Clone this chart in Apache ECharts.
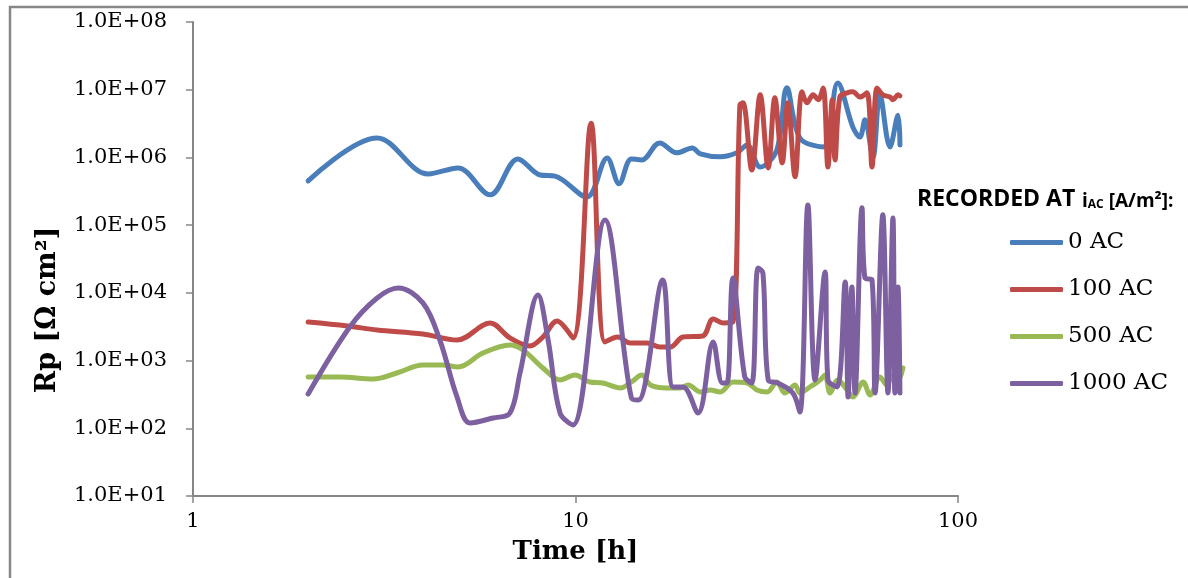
<!DOCTYPE html>
<html>
<head>
<meta charset="utf-8">
<script src="https://cdn.jsdelivr.net/npm/echarts@6.0.0/dist/echarts.min.js"></script>
<style>
html,body{margin:0;padding:0;background:#fff;}
#main{width:1188px;height:578px;}
</style>
</head>
<body>
<div id="main"></div>
<script>
// tick labels
var xTickLabels = {1: '1', 10: '10', 100: '100'};
var yTickLabels = ['1.0E+01','1.0E+02','1.0E+03','1.0E+04','1.0E+05','1.0E+06','1.0E+07','1.0E+08'];

var seriesNames = ['0 AC', '100 AC', '500 AC', '1000 AC'];
var seriesColors = ['#4a7ebb', '#be4b48', '#98b954', '#7d60a0'];

// 0 AC
var t0 = [2.0, 3.03, 4.12, 4.93, 5.98, 7.07, 8.08, 8.84, 10.7, 12.1, 13.0, 14.0, 14.9, 16.6, 18.4, 20.2, 21.2, 23.9, 26.4, 28.1,
          30.4, 33.6, 35.7, 38.6, 44.4, 48.5, 53.1, 55.4, 57.1, 59.9, 62.5, 66.4, 69.7, 70.5];
var rp0 = [4.5e5, 1.94e6, 5.7e5, 7.0e5, 2.8e5, 9.5e5, 5.5e5, 5.3e5, 2.6e5, 9.8e5, 4.1e5, 9.5e5, 9.2e5, 1.64e6, 1.17e6, 1.38e6, 1.13e6, 1.02e6, 1.17e6, 1.53e6,
           7.2e5, 1.29e6, 1.07e7, 1.94e6, 1.43e6, 1.26e7, 2.8e6, 2.0e6, 3.6e6, 1.0e6, 8.4e6, 1.43e6, 4.2e6, 1.53e6];

// 100 AC
var t100 = [2.0, 2.53, 3.03, 3.99, 4.90, 5.98, 6.74, 7.60, 8.22, 8.95, 9.85, 10.98, 11.94, 12.9, 13.9, 15.4, 16.6, 17.7, 19.1, 21.5,
            22.9, 24.3, 25.8, 26.9, 27.4, 28.9, 30.4, 31.9, 33.2, 34.7, 35.9, 37.5, 39.1, 40.3, 41.8, 43.1, 44.4, 45.7, 46.9, 47.7,
            49.1, 51.3, 53.1, 55.4, 57.8, 59.6, 61.4, 63.6, 66.4, 67.6, 69.7, 70.5];
var rp100 = [3700, 3240, 2830, 2470, 2010, 3590, 2160, 1640, 2230, 3850, 2160, 3.2e6, 1880, 2230, 1820, 1820, 1590, 1590, 2230, 2310,
             4120, 3590, 3720, 5.96e6, 6.4e6, 6.5e5, 8.4e6, 7.0e5, 7.6e6, 8.3e5, 6.4e6, 5.2e5, 9.3e6, 6.4e6, 8.4e6, 7.1e6, 1.06e7, 7.2e5, 7.1e6, 9.2e5,
             7.8e6, 9.0e6, 9.3e6, 7.8e6, 9.0e6, 7.2e5, 1.06e7, 8.4e6, 7.8e6, 7.1e6, 8.4e6, 8.1e6];

// 500 AC
var t500 = [2.0, 2.42, 2.96, 3.41, 3.99, 4.50, 4.93, 5.73, 6.74, 7.29, 8.22, 9.11, 9.97, 10.9, 11.8, 13.1, 14.0, 14.9, 15.7, 17.3,
            18.8, 19.7, 21.2, 22.5, 23.9, 25.8, 28.1, 29.8, 31.7, 33.6, 35.3, 37.5, 38.6, 41.0, 43.6, 44.9, 46.3, 48.5, 51.3, 53.1,
            56.5, 58.9, 62.5, 65.2, 67.6, 69.7, 71.8];
var rp500 = [573, 573, 535, 656, 861, 861, 804, 1295, 1700, 1435, 778, 517, 612, 483, 467, 394, 483, 612, 436, 394,
             394, 436, 344, 368, 344, 483, 467, 368, 344, 483, 332, 436, 332, 407, 517, 612, 332, 517, 368, 290,
             483, 310, 573, 436, 612, 517, 778];

// 1000 AC
var t1000 = [2.0, 2.57, 3.03, 3.44, 3.99, 4.42, 4.90, 5.30, 6.09, 6.74, 7.16, 7.98, 8.48, 9.11, 9.85, 11.94, 14.0, 14.6, 16.9, 18.0,
             19.1, 20.9, 22.9, 24.2, 24.9, 25.8, 27.7, 28.9, 30.0, 30.9, 31.9, 33.8, 37.0, 38.6, 40.5, 42.3, 44.9, 45.7, 48.3, 50.7,
             51.6, 52.8, 53.8, 56.1, 57.1, 59.6, 60.7, 63.6, 65.6, 67.6, 68.4, 69.7, 70.5];
var rp1000 = [321, 3135, 8410, 11800, 7100, 2010, 290, 120, 142, 168, 656, 9300, 2010, 168, 112, 1.19e5, 280, 262, 15500, 407,
              407, 168, 1880, 467, 467, 16600, 573, 467, 23300, 19700, 517, 467, 332, 174, 1.99e5, 517, 20400, 517, 407, 14500,
              290, 12200, 332, 1.8e5, 16600, 15500, 332, 1.42e5, 332, 1.28e5, 332, 12200, 332];

var times = [t0, t100, t500, t1000];
var values = [rp0, rp100, rp500, rp1000];

var axisColor = '#868686';
var serif = 'DejaVu Serif';

var series = seriesNames.map(function(name, k){
    return {
        name: name,
        type: 'line',
        smooth: 0.35,
        symbol: 'none',
        color: seriesColors[k],
        lineStyle: {width: 5, color: seriesColors[k], cap: 'round', join: 'round'},
        data: times[k].map(function(t, i){ return [t, values[k][i]]; })
    };
});

var myChart = echarts.init(document.getElementById('main'));
var option = {
    animation: false,
    backgroundColor: '#fff',
    grid: {left: 193, right: 230, top: 22, bottom: 82},
    xAxis: {
        type: 'log', logBase: 10, min: 1, max: 100, splitNumber: 2,
        name: 'Time [h]', nameLocation: 'middle', nameGap: 43,
        nameTextStyle: {fontFamily: serif, fontWeight: 'bold', fontSize: 26, color: '#000'},
        axisLine: {onZero: false, lineStyle: {color: axisColor, width: 2}},
        axisTick: {show: true, length: 7, lineStyle: {color: axisColor, width: 1.5}},
        minorTick: {show: false},
        splitLine: {show: false},
        axisLabel: {fontFamily: serif, fontSize: 21, color: '#000', margin: 15,
            formatter: function(v){ return xTickLabels[Math.round(v)] || ''; }}
    },
    yAxis: {
        type: 'log', logBase: 10, min: 10, max: 1e8, splitNumber: 7,
        axisLine: {show: true, onZero: false, lineStyle: {color: axisColor, width: 2}},
        axisTick: {show: true, length: 7, lineStyle: {color: axisColor, width: 1.5}},
        minorTick: {show: false},
        splitLine: {show: false},
        axisLabel: {fontFamily: serif, fontSize: 21, color: '#000', margin: 26,
            formatter: function(v){ return yTickLabels[Math.round(Math.log10(v)) - 1] || ''; }}
    },
    legend: {
        orient: 'vertical', left: 1005, top: 225,
        icon: 'roundRect', itemWidth: 53, itemHeight: 5, itemGap: 22, itemTextGap: 6,
        textStyle: {fontFamily: serif, fontSize: 23, color: '#000', lineHeight: 25},
        data: seriesNames
    },
    graphic: [
        {type: 'rect', silent: true, shape: {x: 10, y: 7, width: 1200, height: 600},
         style: {fill: 'none', stroke: '#878787', lineWidth: 2.5}},
        {type: 'text', silent: true, x: 48, y: 310, rotation: Math.PI / 2,
         style: {text: 'Rp [Ω cm²]', fontFamily: serif, fontWeight: 'bold', fontSize: 27, fill: '#000',
                 align: 'center', verticalAlign: 'middle'}},
        {type: 'text', silent: true, x: 917, y: 183,
         style: {
             text: '{b|RECORDED AT}  {s|i}{sub|AC}{s| [A/m²]:}',
             rich: {
                 b: {fontFamily: 'Open Sans', fontWeight: 'bold', fontSize: 23, fill: '#000', verticalAlign: 'bottom', lineHeight: 28},
                 s: {fontFamily: 'Open Sans', fontWeight: 'bold', fontSize: 19, fill: '#000', verticalAlign: 'bottom', lineHeight: 26},
                 sub: {fontFamily: 'Open Sans', fontWeight: 'bold', fontSize: 12, fill: '#000', verticalAlign: 'bottom', lineHeight: 12}
             }
         }}
    ],
    series: series
};
myChart.setOption(option);
</script>
</body>
</html>
